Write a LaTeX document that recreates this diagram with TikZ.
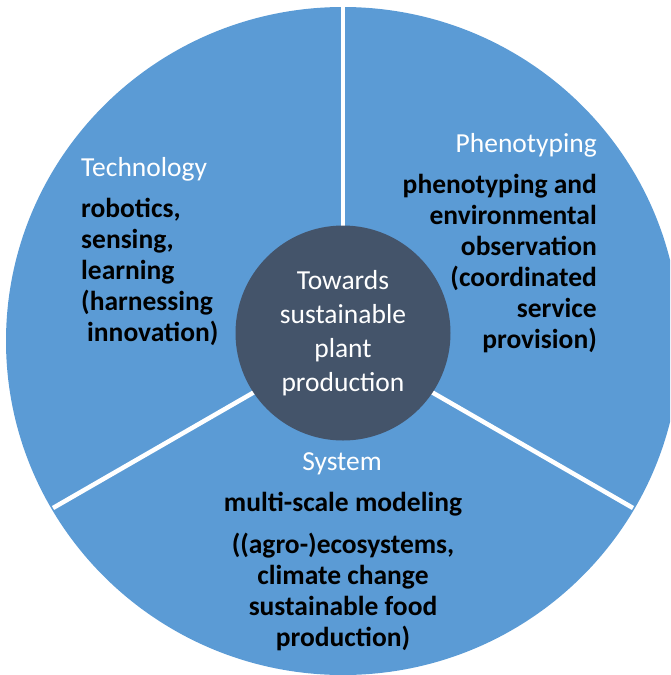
\documentclass[tikz,border=0pt]{standalone}
\usepackage{fontspec}
\setmainfont{Carlito}
\usetikzlibrary{calc}
\definecolor{segblue}{HTML}{5B9BD5}
\definecolor{hubdark}{HTML}{44546A}
\begin{document}
\begin{tikzpicture}[x=1pt,y=-1pt,
  title/.style={text=white,font=\fontsize{27.5}{33}\selectfont,inner sep=0pt},
  body/.style={text=black,font=\bfseries\fontsize{27.5}{31}\selectfont,inner sep=0pt},
  divider/.style={white,line width=4.5pt},
  hubnode/.style={circle,fill=hubdark,text=white,minimum size=215pt,inner sep=0pt,
    align=center,font=\fontsize{27.5}{34}\selectfont}]
\useasboundingbox (0,0) rectangle (670,675);
\begin{scope}
  \clip (0,0) rectangle (670,675);
  \fill[segblue] (343,341) ellipse [x radius=337pt, y radius=334pt];
\end{scope}
\coordinate (c) at (343,341);
\coordinate (top) at (343,0);
\coordinate (lowleft) at ($(c)+(-290,167)$);
\coordinate (lowright) at ($(c)+(290,167)$);
\draw[divider] (c) -- (top);
\draw[divider] (c) -- (lowleft);
\draw[divider] (c) -- (lowright);
\node[hubnode] (hub) at (343,333) {Towards\\sustainable\\plant\\production};
\node[title,anchor=base west] (techtitle) at (81,176) {Technology};
\node[body,anchor=base west,align=left] (techbody) at (81,341)
  {robotics,\\sensing,\\learning\\(harnessing\\\hspace{6pt}innovation)};
\node[title,anchor=base east] (phenotitle) at (597,152) {Phenotyping};
\node[body,anchor=base east,align=right] (phenobody) at (597,348)
  {phenotyping and\\environmental\\observation\\(coordinated\\service\\provision)};
\node[title,anchor=base] (systitle) at (342,470) {System};
\node[body,anchor=base] (sysmain) at (343,511) {multi-scale modeling};
\node[body,anchor=base,align=center] (sysbody) at (343,646)
  {((agro-)ecosystems,\\climate change\\sustainable food\\production)};
\end{tikzpicture}
\end{document}
